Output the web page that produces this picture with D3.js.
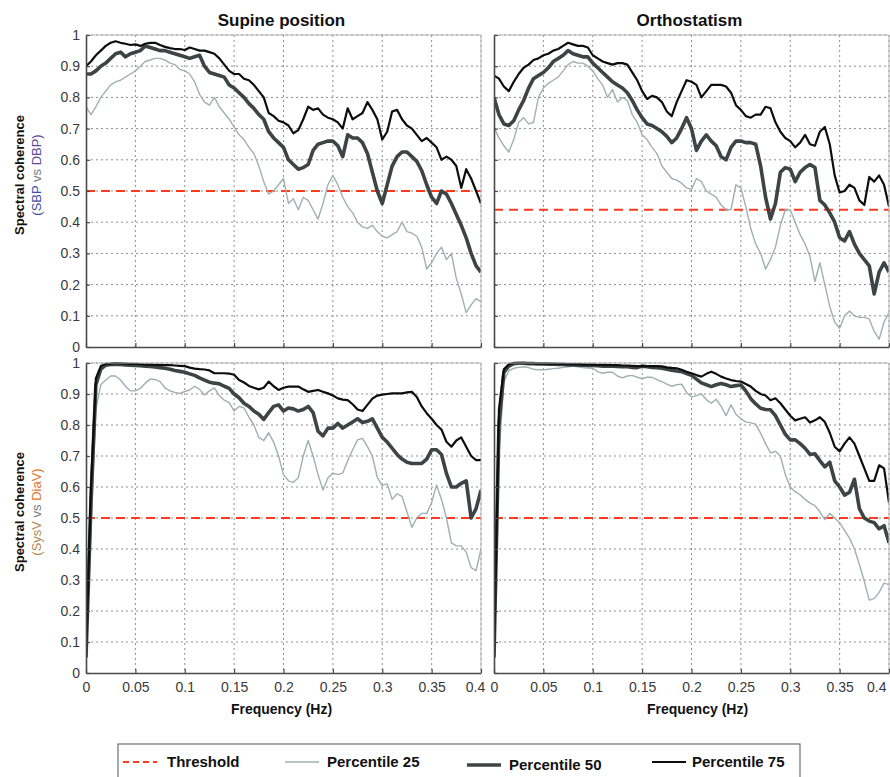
<!DOCTYPE html>
<html>
<head>
<meta charset="utf-8">
<script src="https://cdn.jsdelivr.net/npm/d3@7"></script>
<style>
  body { margin: 0; background: #fff; }
  svg text { font-family: "Liberation Sans", Arial, sans-serif; }
</style>
</head>
<body>
<div id="chart"></div>
<script>
// frequency axis (Hz), 0 .. 0.4
const freq = [
  0, 0.005, 0.01, 0.015, 0.02, 0.025, 0.03, 0.035, 0.04, 0.045,
  0.05, 0.055, 0.06, 0.065, 0.07, 0.075, 0.08, 0.085, 0.09, 0.095,
  0.1, 0.105, 0.11, 0.115, 0.12, 0.125, 0.13, 0.135, 0.14, 0.145,
  0.15, 0.155, 0.16, 0.165, 0.17, 0.175, 0.18, 0.185, 0.19, 0.195,
  0.2, 0.205, 0.21, 0.215, 0.22, 0.225, 0.23, 0.235, 0.24, 0.245,
  0.25, 0.255, 0.26, 0.265, 0.27, 0.275, 0.28, 0.285, 0.29, 0.295,
  0.3, 0.305, 0.31, 0.315, 0.32, 0.325, 0.33, 0.335, 0.34, 0.345,
  0.35, 0.355, 0.36, 0.365, 0.37, 0.375, 0.38, 0.385, 0.39, 0.395,
  0.4
];

const xTicks = [0, 0.05, 0.1, 0.15, 0.2, 0.25, 0.3, 0.35, 0.4];
const yTicks = [0, 0.1, 0.2, 0.3, 0.4, 0.5, 0.6, 0.7, 0.8, 0.9, 1];
const columnTitles = ['Supine position', 'Orthostatism'];
const thresholds = [0.5, 0.44, 0.5, 0.5];
const legendNames = ['Threshold', 'Percentile 25', 'Percentile 50', 'Percentile 75'];

// SBP vs DBP, supine
const sbpSupineP25 = [
  .77, .745, .77, .80, .82, .84, .85, .855, .865, .875,
  .885, .90, .915, .92, .925, .925, .92, .91, .905, .89,
  .885, .875, .85, .81, .785, .775, .80, .77, .75, .73,
  .705, .68, .665, .64, .62, .58, .53, .49, .50, .52,
  .54, .46, .475, .44, .48, .47, .44, .41, .46, .52,
  .55, .52, .48, .45, .43, .40, .385, .38, .39, .37,
  .355, .35, .36, .37, .40, .37, .365, .355, .32, .25,
  .27, .30, .32, .28, .30, .22, .17, .11, .135, .155,
  .145
];
const sbpSupineP50 = [
  .875, .875, .885, .90, .91, .925, .94, .945, .93, .94,
  .945, .95, .965, .96, .955, .95, .95, .945, .94, .935,
  .93, .925, .93, .935, .90, .88, .875, .87, .865, .84,
  .83, .815, .80, .78, .765, .745, .73, .69, .67, .655,
  .64, .60, .585, .57, .575, .585, .63, .65, .655, .66,
  .66, .645, .61, .68, .67, .67, .655, .62, .56, .50,
  .46, .52, .58, .61, .625, .625, .61, .595, .565, .52,
  .48, .46, .50, .49, .46, .425, .39, .35, .30, .26,
  .24
];
const sbpSupineP75 = [
  .90, .915, .935, .95, .965, .975, .98, .975, .972, .968,
  .97, .965, .972, .975, .975, .968, .962, .958, .955, .955,
  .952, .96, .955, .95, .95, .945, .94, .925, .905, .885,
  .875, .875, .86, .855, .84, .82, .80, .75, .74, .725,
  .72, .71, .685, .695, .73, .77, .76, .765, .745, .735,
  .73, .72, .70, .765, .73, .74, .75, .785, .76, .73,
  .665, .69, .755, .76, .73, .71, .70, .68, .66, .67,
  .655, .64, .60, .61, .60, .58, .51, .57, .54, .50,
  .46
];

// SBP vs DBP, orthostatism
const sbpOrthoP25 = [
  .705, .67, .645, .625, .665, .72, .735, .715, .72, .80,
  .83, .845, .855, .865, .885, .905, .915, .91, .91, .90,
  .885, .86, .84, .80, .825, .785, .80, .79, .745, .72,
  .68, .665, .64, .62, .58, .56, .54, .535, .525, .51,
  .505, .54, .53, .50, .49, .48, .455, .44, .44, .52,
  .51, .45, .38, .33, .30, .25, .28, .32, .39, .44,
  .44, .40, .36, .33, .29, .21, .27, .20, .13, .08,
  .06, .10, .115, .10, .095, .095, .09, .05, .025, .08,
  .11
];
const sbpOrthoP50 = [
  .80, .745, .715, .71, .725, .76, .79, .83, .86, .87,
  .88, .895, .915, .925, .935, .95, .94, .935, .93, .93,
  .91, .895, .88, .865, .85, .84, .83, .815, .79, .76,
  .735, .715, .71, .70, .69, .675, .655, .67, .70, .735,
  .70, .63, .66, .68, .66, .645, .61, .60, .64, .66,
  .66, .655, .655, .65, .58, .48, .41, .46, .56, .575,
  .57, .53, .56, .575, .585, .575, .47, .455, .43, .40,
  .35, .34, .37, .33, .30, .28, .26, .17, .24, .27,
  .24
];
const sbpOrthoP75 = [
  .87, .86, .835, .82, .85, .875, .895, .905, .92, .925,
  .935, .94, .95, .955, .965, .975, .97, .965, .965, .96,
  .935, .925, .915, .91, .905, .91, .91, .905, .88, .855,
  .82, .795, .805, .80, .785, .755, .74, .785, .82, .855,
  .85, .84, .80, .82, .84, .84, .84, .835, .815, .775,
  .76, .74, .735, .745, .745, .77, .765, .72, .69, .67,
  .66, .64, .655, .68, .65, .645, .69, .705, .65, .55,
  .495, .50, .52, .51, .47, .455, .545, .53, .55, .52,
  .45
];

// SysV vs DiaV, supine
const sysSupineP25 = [
  .05, .45, .85, .93, .945, .958, .958, .945, .925, .91,
  .91, .918, .935, .948, .947, .94, .92, .91, .905, .902,
  .908, .913, .925, .915, .897, .91, .92, .895, .88, .872,
  .845, .86, .855, .825, .80, .76, .75, .775, .745, .70,
  .64, .62, .615, .63, .70, .75, .70, .64, .59, .63,
  .645, .64, .645, .685, .72, .752, .757, .73, .70, .63,
  .605, .61, .56, .578, .57, .52, .47, .50, .515, .515,
  .55, .606, .56, .50, .42, .41, .41, .39, .34, .33,
  .40
];
const sysSupineP50 = [
  .05, .55, .93, .98, .993, .995, .996, .995, .994, .993,
  .992, .991, .99, .989, .987, .985, .983, .98, .976, .973,
  .97, .965, .96, .952, .945, .938, .935, .933, .925, .918,
  .90, .888, .87, .86, .845, .835, .818, .84, .86, .865,
  .845, .855, .852, .845, .85, .86, .84, .78, .765, .79,
  .79, .805, .79, .80, .81, .82, .808, .812, .82, .79,
  .76, .745, .725, .705, .69, .68, .676, .676, .676, .69,
  .72, .72, .705, .644, .60, .60, .612, .62, .50, .53,
  .59
];
const sysSupineP75 = [
  .05, .60, .95, .99, .997, .998, 1.0, .999, .998, .997,
  .997, .996, .995, .995, .994, .994, .993, .993, .992, .991,
  .99, .985, .982, .98, .979, .976, .967, .967, .967, .966,
  .962, .945, .937, .926, .92, .915, .92, .94, .925, .913,
  .92, .924, .924, .924, .915, .907, .91, .913, .907, .902,
  .895, .886, .882, .88, .867, .85, .845, .865, .885, .895,
  .898, .90, .902, .902, .902, .905, .907, .89, .86, .838,
  .82, .80, .785, .746, .73, .75, .76, .73, .70, .687,
  .687
];

// SysV vs DiaV, orthostatism
const sysOrthoP25 = [
  .05, .70, .94, .975, .983, .986, .988, .985, .98, .978,
  .978, .98, .982, .983, .986, .988, .99, .988, .985, .984,
  .983, .972, .967, .97, .97, .958, .952, .958, .96, .954,
  .95, .954, .954, .946, .94, .932, .925, .93, .932, .905,
  .89, .895, .90, .882, .87, .883, .86, .83, .865, .835,
  .82, .81, .807, .803, .773, .74, .71, .715, .70, .64,
  .60, .585, .575, .56, .548, .54, .52, .495, .515, .50,
  .485, .46, .435, .40, .35, .295, .235, .24, .26, .29,
  .285
];
const sysOrthoP50 = [
  .05, .80, .97, .99, .998, .999, .999, .998, .998, .997,
  .997, .996, .996, .995, .995, .994, .994, .993, .993, .992,
  .992, .991, .99, .99, .99, .989, .988, .988, .986, .985,
  .99, .988, .986, .985, .983, .98, .977, .974, .972, .966,
  .96, .948, .936, .93, .924, .93, .934, .93, .924, .927,
  .929, .91, .885, .868, .854, .85, .849, .83, .80, .77,
  .752, .752, .74, .725, .705, .707, .685, .665, .68, .62,
  .60, .574, .583, .625, .53, .50, .49, .485, .465, .475,
  .42
];
const sysOrthoP75 = [
  .05, .85, .98, .996, 1.0, 1.0, 1.0, .999, .999, .998,
  .998, .998, .997, .997, .997, .996, .996, .996, .995, .995,
  .995, .994, .994, .994, .993, .993, .992, .992, .991, .99,
  .99, .99, .99, .99, .989, .986, .984, .983, .978, .972,
  .967, .961, .956, .965, .972, .965, .956, .95, .945, .942,
  .94, .932, .924, .91, .90, .895, .88, .886, .87, .85,
  .83, .815, .82, .825, .808, .815, .825, .81, .775, .73,
  .715, .74, .76, .74, .70, .66, .62, .62, .67, .66,
  .55
];

const width = 890, height = 777;
const panelW = 395;

const style = {
  p25: { color: '#9fb0b4', w: 1.4 },
  p50: { color: '#3d4444', w: 3.6 },
  p75: { color: '#0d0d0d', w: 2.2 }
};

const panels = [
  { left: 86, top: 35, h: 312, series: [sbpSupineP25, sbpSupineP50, sbpSupineP75], thr: thresholds[0], xLab: false, yLab: true },
  { left: 494, top: 35, h: 312, series: [sbpOrthoP25, sbpOrthoP50, sbpOrthoP75], thr: thresholds[1], xLab: false, yLab: false },
  { left: 86, top: 363, h: 310, series: [sysSupineP25, sysSupineP50, sysSupineP75], thr: thresholds[2], xLab: true, yLab: true },
  { left: 494, top: 363, h: 310, series: [sysOrthoP25, sysOrthoP50, sysOrthoP75], thr: thresholds[3], xLab: true, yLab: false }
];

const svg = d3.select('#chart').append('svg')
  .attr('width', width)
  .attr('height', height);

svg.append('rect').attr('width', width).attr('height', height).attr('fill', '#fff');

panels.forEach((p, i) => {
  const x = d3.scaleLinear().domain([0, 0.4]).range([p.left, p.left + panelW]);
  const y = d3.scaleLinear().domain([0, 1]).range([p.top + p.h, p.top]);
  const g = svg.append('g');

  g.append('clipPath').attr('id', 'clip' + i)
    .append('rect')
    .attr('x', p.left).attr('y', p.top - 2)
    .attr('width', panelW).attr('height', p.h + 2);

  // dotted grid
  g.append('g').selectAll('line')
    .data(xTicks.slice(1))
    .join('line')
    .attr('x1', (d) => x(d)).attr('x2', (d) => x(d))
    .attr('y1', p.top).attr('y2', p.top + p.h)
    .attr('stroke', '#8d8d8d').attr('stroke-width', 1)
    .attr('stroke-dasharray', '2,3');
  g.append('g').selectAll('line')
    .data(yTicks.slice(1))
    .join('line')
    .attr('x1', p.left).attr('x2', p.left + panelW)
    .attr('y1', (d) => y(d)).attr('y2', (d) => y(d))
    .attr('stroke', '#8d8d8d').attr('stroke-width', 1)
    .attr('stroke-dasharray', '2,3');

  // threshold
  g.append('line')
    .attr('x1', x(0)).attr('x2', x(0.4))
    .attr('y1', y(p.thr)).attr('y2', y(p.thr))
    .attr('stroke', '#ff3a1e').attr('stroke-width', 2)
    .attr('stroke-dasharray', '9,6');

  const line = d3.line()
    .x((d, k) => x(freq[k]))
    .y((d) => y(d));

  const keys = ['p25', 'p50', 'p75'];
  p.series.forEach((s, j) => {
    g.append('path')
      .datum(s)
      .attr('clip-path', 'url(#clip' + i + ')')
      .attr('fill', 'none')
      .attr('stroke', style[keys[j]].color)
      .attr('stroke-width', style[keys[j]].w)
      .attr('stroke-linejoin', 'round')
      .attr('d', line);
  });

  // top and right edges of the box
  g.append('path')
    .attr('d', `M${p.left},${p.top}H${p.left + panelW}V${p.top + p.h}`)
    .attr('fill', 'none').attr('stroke', '#b5b5b5').attr('stroke-width', 1);

  const xAxis = d3.axisBottom(x)
    .tickValues(xTicks)
    .tickSizeInner(-4).tickSizeOuter(0)
    .tickPadding(9)
    .tickFormat((d) => (p.xLab ? String(d) : ''));
  const yAxis = d3.axisLeft(y)
    .tickValues(yTicks)
    .tickSizeInner(-4).tickSizeOuter(0)
    .tickPadding(6)
    .tickFormat((d) => (p.yLab ? String(d) : ''));

  const gx = g.append('g')
    .attr('transform', 'translate(0,' + (p.top + p.h) + ')')
    .call(xAxis);
  const gy = g.append('g')
    .attr('transform', 'translate(' + p.left + ',0)')
    .call(yAxis);

  [gx, gy].forEach((a) => {
    a.attr('font-family', null).attr('font-size', null);
    a.select('.domain').attr('stroke', '#4a4a4a').attr('stroke-width', 1.6);
    a.selectAll('.tick line').attr('stroke', '#4a4a4a').attr('stroke-width', 1.2);
    a.selectAll('.tick text').attr('fill', '#3a3a3a').style('font-size', '14px');
  });

  // last x label: pulled in so it does not run into the next panel / page edge
  if (p.xLab) {
    const last = gx.selectAll('.tick text').filter((d) => d === 0.4);
    if (i === 3) last.attr('text-anchor', 'end').attr('dx', -3);
    else last.attr('dx', -6);

    g.append('text')
      .attr('x', p.left + panelW / 2 + (i === 3 ? 6 : -2))
      .attr('y', 714)
      .attr('text-anchor', 'middle')
      .style('font-size', '14px').style('font-weight', 'bold')
      .attr('fill', '#111')
      .text('Frequency (Hz)');
  }
});

// column titles
columnTitles.forEach((t, i) => {
  svg.append('text')
    .attr('x', panels[i].left + panelW / 2 - 2)
    .attr('y', 26)
    .attr('text-anchor', 'middle')
    .style('font-size', '17px').style('font-weight', 'bold')
    .attr('fill', '#111')
    .text(t);
});

// y labels
function yLabel(cy, parts) {
  const t = svg.append('g').attr('transform', 'translate(0,' + cy + ') rotate(-90)');
  t.append('text')
    .attr('x', 0).attr('y', 24)
    .attr('text-anchor', 'middle')
    .style('font-size', '13px').style('font-weight', 'bold')
    .attr('fill', '#111')
    .text('Spectral coherence');
  const sub = t.append('text')
    .attr('x', 0).attr('y', 41)
    .attr('text-anchor', 'middle')
    .style('font-size', '13px');
  parts.forEach((pt) => sub.append('tspan').attr('fill', pt[1]).text(pt[0]));
}
yLabel(175, [['(SBP', '#3f4fa0'], [' vs ', '#777'], ['DBP)', '#5a4a9a']]);
yLabel(512, [['(SysV', '#b08850'], [' vs ', '#777'], ['DiaV)', '#e2742a']]);

// legend
const lg = svg.append('g');
lg.append('rect')
  .attr('x', 118).attr('y', 744)
  .attr('width', 682).attr('height', 50)
  .attr('fill', '#fff').attr('stroke', '#707070').attr('stroke-width', 1.2);

const legendItems = [
  { x: 123, tx: 167, color: '#ff3a1e', w: 2, dash: '6,4', ty: 767 },
  { x: 285, tx: 327, color: style.p25.color, w: style.p25.w, dash: null, ty: 767 },
  { x: 467, tx: 509, color: style.p50.color, w: style.p50.w, dash: null, ty: 770 },
  { x: 652, tx: 692, color: style.p75.color, w: style.p75.w, dash: null, ty: 767 }
];
legendItems.forEach((d, i) => {
  lg.append('line')
    .attr('x1', d.x).attr('x2', d.x + 34)
    .attr('y1', d.ty - 5).attr('y2', d.ty - 5)
    .attr('stroke', d.color).attr('stroke-width', d.w)
    .attr('stroke-dasharray', d.dash);
  lg.append('text')
    .attr('x', d.tx).attr('y', d.ty)
    .style('font-size', '15px').style('font-weight', 'bold')
    .attr('fill', '#111')
    .text(legendNames[i]);
});
</script>
</body>
</html>
